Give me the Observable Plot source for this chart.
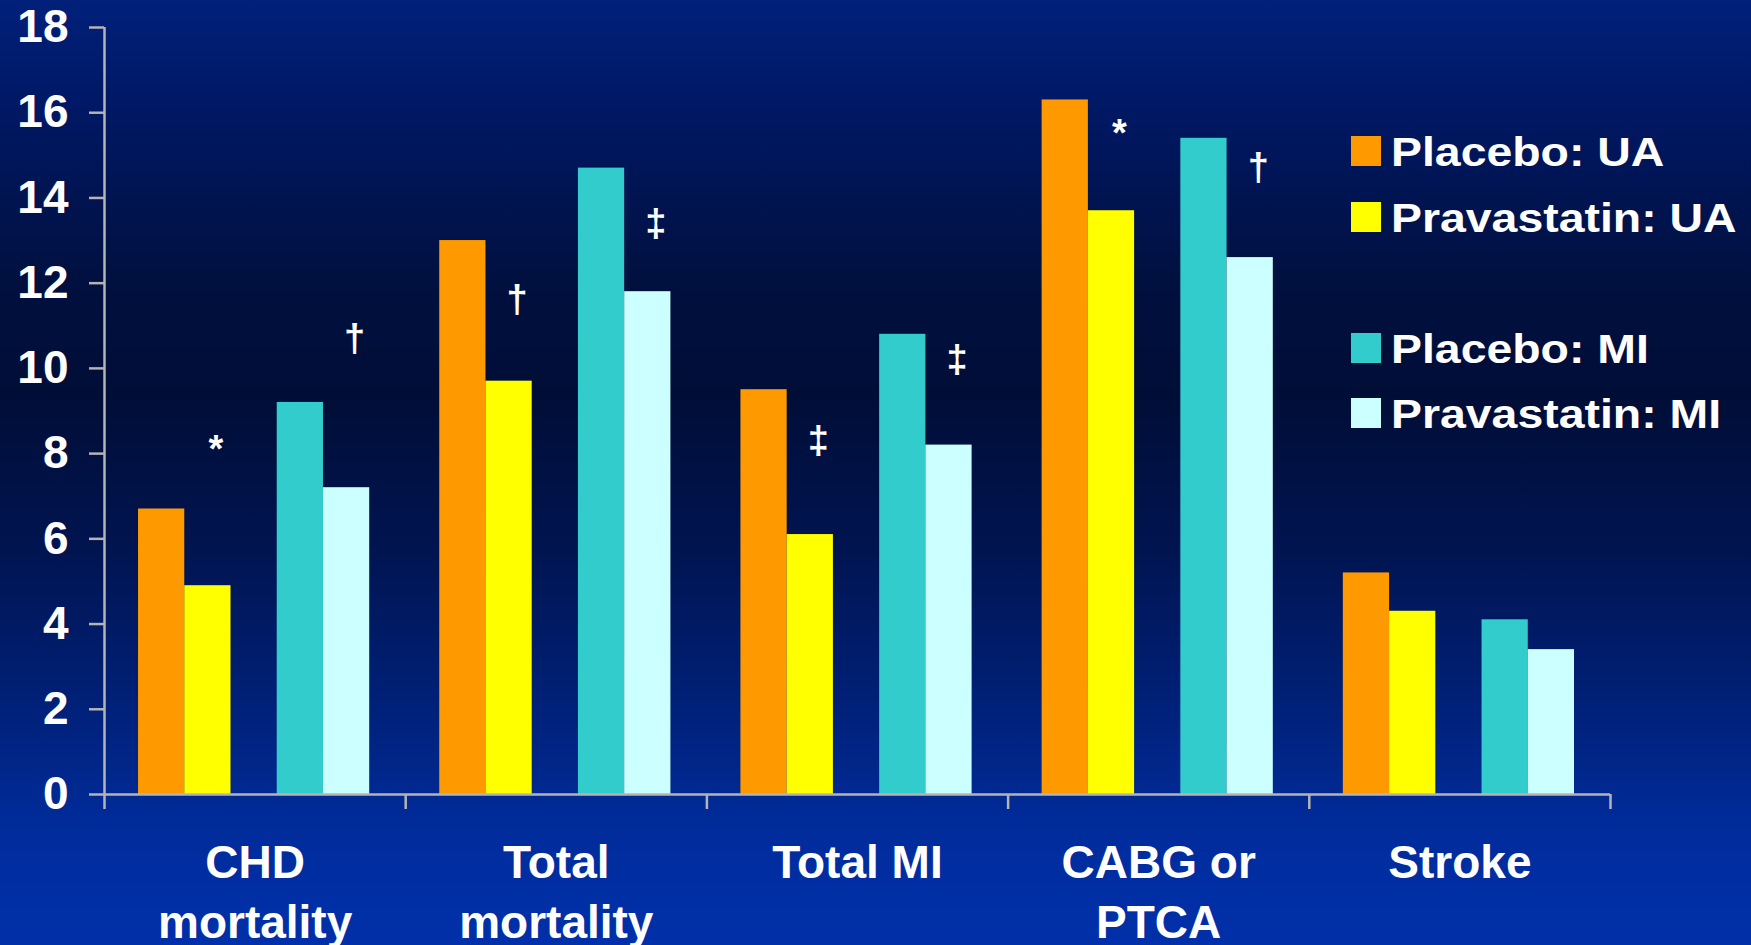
<!DOCTYPE html>
<html>
<head>
<meta charset="utf-8">
<script src="https://cdn.jsdelivr.net/npm/d3@7"></script>
<script src="https://cdn.jsdelivr.net/npm/@observablehq/plot@0.6"></script>
<style>
  html, body { margin: 0; padding: 0; }
  body {
    width: 1751px; height: 945px; overflow: hidden;
    font-family: "Liberation Sans", Arial, sans-serif;
    background: linear-gradient(to bottom,
      #00207a 0%, #001863 12%, #00103f 30%, #000e37 42%,
      #001450 58%, #00227c 76%, #002c9c 88%, #0030aa 100%);
  }
  #chart { position: relative; width: 1751px; height: 945px; }
  #legend { position: absolute; left: 1351px; top: 0; }
  .item { position: absolute; left: 0; white-space: nowrap; }
  .swatch { position: absolute; left: 0; top: 0; width: 30px; height: 30px; }
  .name {
    position: absolute; left: 40px; top: 1px;
    font-size: 40px; font-weight: bold; line-height: 30px;
    color: #ffffff;
    transform: scaleX(1.16); transform-origin: 0 50%;
  }
</style>
</head>
<body>
<div id="chart"><div id="legend"></div></div>
<script>
// Event rates (%) by endpoint, unstable angina (UA) vs prior MI cohorts
const categories = ["CHD mortality", "Total mortality", "Total MI", "CABG or PTCA", "Stroke"];
const categoryLabels = ["CHD\nmortality", "Total\nmortality", "Total MI", "CABG or\nPTCA", "Stroke"];
const seriesNames = ["Placebo: UA", "Pravastatin: UA", "Placebo: MI", "Pravastatin: MI"];
const seriesColors = ["#FF9900", "#FFFF00", "#33CCCC", "#CCFFFF"];

const placeboUA      = [6.7, 13.0,  9.5, 16.3, 5.2];
const pravastatinUA  = [4.9,  9.7,  6.1, 13.7, 4.3];
const placeboMI      = [9.2, 14.7, 10.8, 15.4, 4.1];
const pravastatinMI  = [7.2, 11.8,  8.2, 12.6, 3.4];

const yTicks = [0, 2, 4, 6, 8, 10, 12, 14, 16, 18];

// significance markers over the pravastatin bars
const markerCategory = ["CHD mortality", "CHD mortality", "Total mortality", "Total mortality",
                        "Total MI", "Total MI", "CABG or PTCA", "CABG or PTCA"];
const markerSeries   = ["Pravastatin: UA", "Pravastatin: MI", "Pravastatin: UA", "Pravastatin: MI",
                        "Pravastatin: UA", "Pravastatin: MI", "Pravastatin: UA", "Pravastatin: MI"];
const markerSymbol   = ["*", "†", "†", "‡", "‡", "‡", "*", "†"];
const markerLevel    = [8.1, 10.7, 11.6, 13.4, 8.3, 10.2, 15.5, 14.7];

// layout of the bars inside each endpoint group (one empty slot between UA and MI pairs)
const groupPad = 0.113;
const slotWidth = 0.1535;
const seriesSlot = {"Placebo: UA": 0, "Pravastatin: UA": 1, "Placebo: MI": 3, "Pravastatin: MI": 4};
const slotStart = (cat, series) => categories.indexOf(cat) + groupPad + seriesSlot[series] * slotWidth;

const seriesValues = [placeboUA, pravastatinUA, placeboMI, pravastatinMI];
const rows = [];
categories.forEach((cat, ci) => {
  seriesNames.forEach((s, si) => rows.push({category: cat, series: s, value: seriesValues[si][ci]}));
});
const markers = markerSymbol.map((sym, i) => ({
  category: markerCategory[i], series: markerSeries[i], symbol: sym, level: markerLevel[i]
}));

const axisGray = "#b4b4b4";
const font = "Liberation Sans, Arial, sans-serif";

const chart = Plot.plot({
  width: 1751,
  height: 945,
  marginLeft: 104,
  marginRight: 141,
  marginTop: 27,
  marginBottom: 151,
  style: {background: "transparent", fontFamily: font, overflow: "visible"},
  x: {domain: [0, categories.length], label: null},
  y: {domain: [0, 18], label: null},
  color: {domain: seriesNames, range: seriesColors},
  marks: [
    Plot.rect(rows, {
      x1: d => slotStart(d.category, d.series),
      x2: d => slotStart(d.category, d.series) + slotWidth,
      y1: 0,
      y2: "value",
      fill: "series"
    }),
    Plot.ruleY([0], {stroke: axisGray, strokeWidth: 2.5}),
    Plot.ruleX([0], {stroke: axisGray, strokeWidth: 2.5}),
    Plot.axisY({
      ticks: yTicks, tickSize: 15, tickPadding: 21, label: null,
      stroke: axisGray, strokeWidth: 2.5, strokeOpacity: 1,
      fill: "white", fontSize: 46, fontWeight: "bold", fontFamily: font
    }),
    Plot.axisX({
      ticks: d3.range(categories.length + 1), tickSize: 15, label: null,
      tickFormat: () => "", stroke: axisGray, strokeWidth: 2.5, strokeOpacity: 1
    }),
    Plot.text(categoryLabels, {
      x: (d, i) => i + 0.5,
      text: d => d,
      frameAnchor: "bottom",
      lineAnchor: "top",
      dy: 41,
      lineHeight: 1.3,
      fill: "white",
      fontSize: 46,
      fontWeight: "bold",
      fontFamily: font
    }),
    Plot.text(markers, {
      x: d => slotStart(d.category, d.series) + slotWidth / 2,
      y: "level",
      text: "symbol",
      dx: 8,
      fill: "white",
      fontSize: 38,
      fontWeight: "bold",
      fontFamily: font
    })
  ]
});
document.getElementById("chart").prepend(chart);

// legend: two pairs with a blank row between them
const legend = d3.select("#legend");
const legendRow = [0, 1, 3, 4];
seriesNames.forEach((s, i) => {
  const item = legend.append("div").attr("class", "item").style("top", `${136 + legendRow[i] * 65.5}px`);
  item.append("div").attr("class", "swatch").style("background", seriesColors[i]);
  item.append("div").attr("class", "name").text(s);
});
</script>
</body>
</html>
